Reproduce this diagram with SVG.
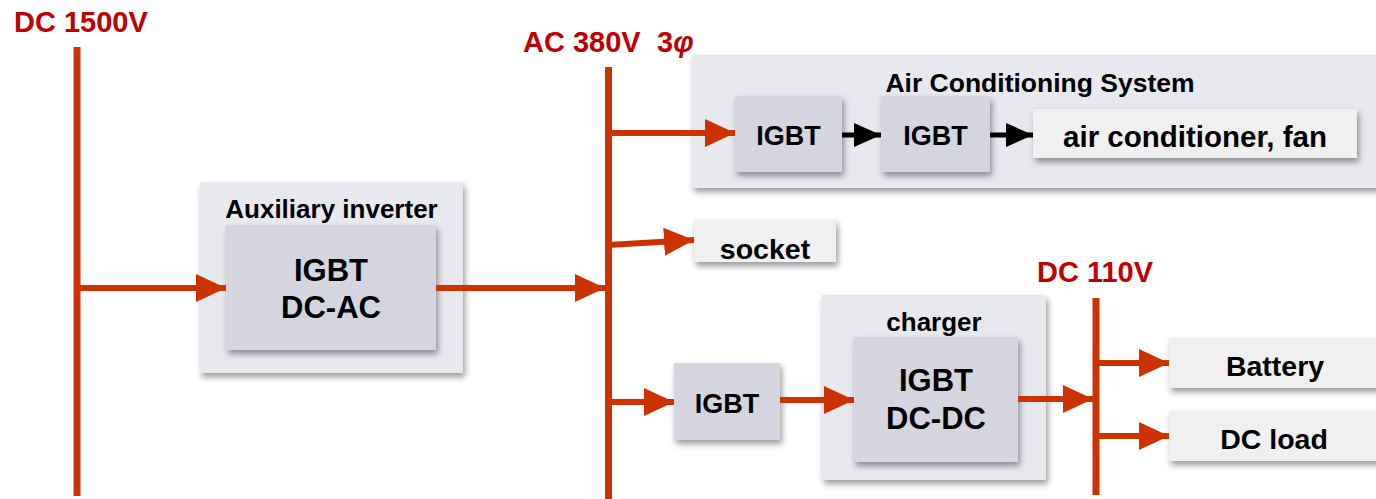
<svg xmlns="http://www.w3.org/2000/svg" width="1376" height="499" viewBox="0 0 1376 499">
<defs>
<style>
.t{font-family:"Liberation Sans",Arial,sans-serif;font-weight:bold;fill:#000;text-anchor:middle}
.v{font-family:"Liberation Sans",Arial,sans-serif;font-weight:bold;fill:#c00000;font-size:29px}
.outer{fill:#e8e9ee}
.inner{fill:#d4d5de}
.leaf{fill:#f0f0f0}
.bus{stroke:#cc3300;stroke-width:7;fill:none}
.ra{stroke:#cc3300;stroke-width:6;fill:none;marker-end:url(#rh)}
.ba{stroke:#000;stroke-width:5;fill:none;marker-end:url(#bh)}
</style>
<filter id="sh" x="-10%" y="-10%" width="130%" height="140%">
<feDropShadow dx="2" dy="4" stdDeviation="3" flood-color="#000" flood-opacity="0.4"/>
</filter>
<marker id="rh" markerUnits="userSpaceOnUse" markerWidth="30" markerHeight="30" refX="30" refY="15" orient="auto">
<path d="M0,1 L30,15 L0,29 z" fill="#cc3300"/>
</marker>
<marker id="bh" markerUnits="userSpaceOnUse" markerWidth="27" markerHeight="26" refX="27" refY="13" orient="auto">
<path d="M0,1 L27,13 L0,25 z" fill="#000"/>
</marker>
</defs>

<g id="labels">
<text class="v" x="14" y="32">DC 1500V</text>
<text class="v" x="523" y="52">AC 380V<tspan x="657">3</tspan><tspan font-style="italic">φ</tspan></text>
<text class="v" x="1037" y="282">DC 110V</text>
</g>

<g id="ac-system">
<rect class="outer" x="692" y="55" width="700" height="133" filter="url(#sh)"/>
<text class="t" x="1040" y="92" font-size="26.5">Air Conditioning System</text>
</g>
<g id="ac-igbt1">
<rect class="inner" x="735" y="96" width="107" height="76" filter="url(#sh)"/>
<text class="t" x="788.5" y="145" font-size="27">IGBT</text>
</g>
<g id="ac-igbt2">
<rect class="inner" x="881" y="96" width="109" height="76" filter="url(#sh)"/>
<text class="t" x="935.5" y="145" font-size="27">IGBT</text>
</g>
<g id="ac-fan">
<rect class="leaf" x="1033" y="109" width="324" height="49" filter="url(#sh)"/>
<text class="t" x="1195" y="147" font-size="29.5">air conditioner, fan</text>
</g>

<g id="aux-inverter">
<rect class="outer" x="200" y="182" width="263" height="191" filter="url(#sh)"/>
<text class="t" x="331.5" y="218" font-size="26">Auxiliary inverter</text>
</g>
<g id="dc-ac">
<rect class="inner" x="226" y="225" width="210" height="125" filter="url(#sh)"/>
<text class="t" x="331" y="281" font-size="31">IGBT</text>
<text class="t" x="331" y="318" font-size="31">DC-AC</text>
</g>

<g id="socket">
<rect class="leaf" x="694" y="220" width="142" height="42" filter="url(#sh)"/>
<text class="t" x="765" y="259" font-size="28.5">socket</text>
</g>

<g id="igbt3">
<rect class="inner" x="674" y="363" width="106" height="77" filter="url(#sh)"/>
<text class="t" x="727" y="413" font-size="27">IGBT</text>
</g>

<g id="charger">
<rect class="outer" x="822" y="295" width="224" height="185" filter="url(#sh)"/>
<text class="t" x="934" y="331" font-size="26">charger</text>
</g>
<g id="dc-dc">
<rect class="inner" x="854" y="337" width="164" height="125" filter="url(#sh)"/>
<text class="t" x="936" y="391" font-size="31">IGBT</text>
<text class="t" x="936" y="429" font-size="31">DC-DC</text>
</g>

<g id="battery">
<rect class="leaf" x="1169" y="338" width="215" height="50" filter="url(#sh)"/>
<text class="t" x="1275" y="376" font-size="28.5">Battery</text>
</g>
<g id="dc-load">
<rect class="leaf" x="1169" y="411" width="215" height="50" filter="url(#sh)"/>
<text class="t" x="1274" y="449" font-size="28.5">DC load</text>
</g>

<g id="connectors">
<line class="bus" x1="77" y1="47" x2="77" y2="496"/>
<line class="bus" x1="608.5" y1="67" x2="608.5" y2="499"/>
<line class="bus" x1="1096" y1="298" x2="1096" y2="495"/>
<line class="ra" x1="77" y1="288" x2="226" y2="288"/>
<line class="ra" x1="436" y1="288" x2="605" y2="288"/>
<line class="ra" x1="608" y1="133" x2="735" y2="133"/>
<line class="ra" x1="608" y1="245" x2="694" y2="240"/>
<line class="ra" x1="608" y1="402" x2="674" y2="402"/>
<line class="ra" x1="780" y1="400" x2="854" y2="400"/>
<line class="ra" x1="1018" y1="399" x2="1093" y2="399"/>
<line class="ra" x1="1096" y1="363" x2="1169" y2="363"/>
<line class="ra" x1="1096" y1="436" x2="1169" y2="436"/>
<line class="ba" x1="842" y1="135" x2="881" y2="135"/>
<line class="ba" x1="990" y1="135" x2="1033" y2="135"/>
</g>
</svg>
